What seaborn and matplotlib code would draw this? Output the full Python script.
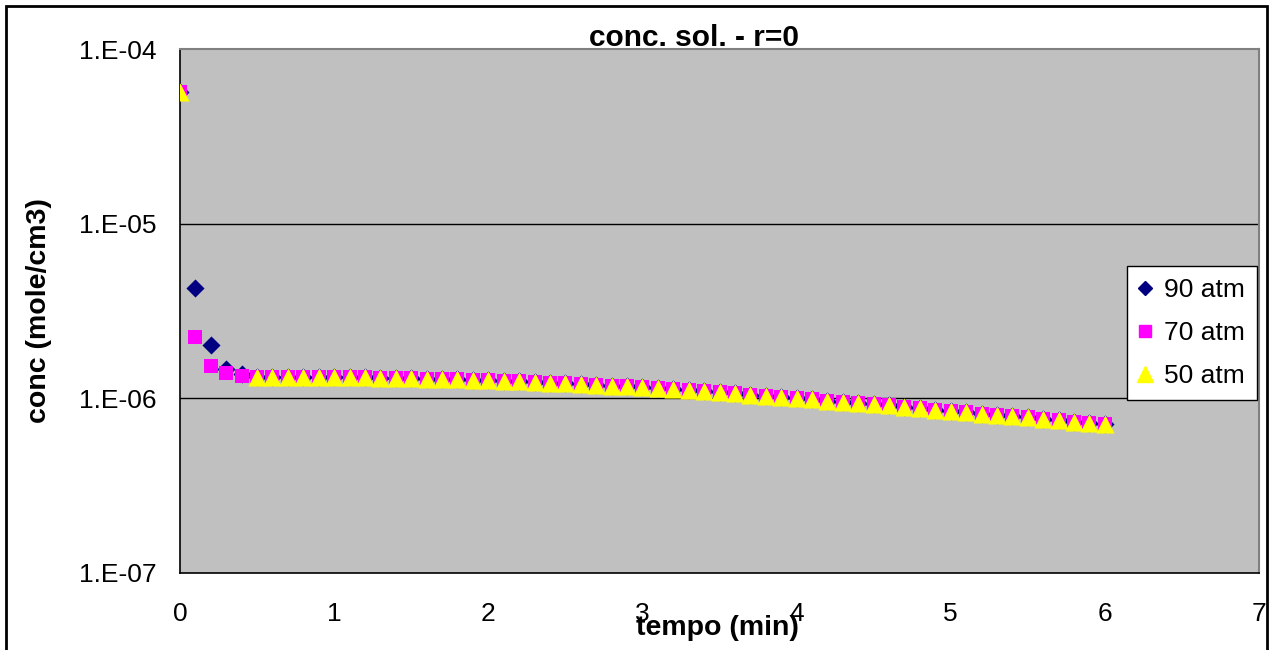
import numpy as np
import pandas as pd
import matplotlib
matplotlib.use("Agg")
import matplotlib.pyplot as plt
import seaborn as sns
from matplotlib.lines import Line2D
from matplotlib.patches import Rectangle
from matplotlib.ticker import FixedLocator, FuncFormatter, NullLocator

sns.set_style("white")
plt.rcParams['font.family'] = ['Liberation Sans', 'DejaVu Sans']
plt.rcParams['text.color'] = 'black'
plt.rcParams['axes.labelcolor'] = 'black'
plt.rcParams['xtick.color'] = 'black'
plt.rcParams['ytick.color'] = 'black'

# ---------------- data ----------------
tempo = [round(0.1 * i, 1) for i in range(61)]  # 0.0 .. 6.0 min

# common tail (t = 0.5 .. 6.0), values in 1e-6 mole/cm3
tail = [1.32, 1.32, 1.32, 1.32, 1.32, 1.32, 1.32, 1.32,
        1.30, 1.30, 1.30, 1.29, 1.29, 1.29, 1.27, 1.27,
        1.26, 1.25, 1.24, 1.23, 1.22, 1.21, 1.19, 1.18,
        1.17, 1.16, 1.14, 1.13, 1.12, 1.10, 1.08, 1.07,
        1.05, 1.03, 1.02, 1.00, 0.985, 0.97, 0.955, 0.94,
        0.925, 0.91, 0.89, 0.875, 0.86, 0.845, 0.83, 0.815,
        0.80, 0.79, 0.78, 0.765, 0.75, 0.735, 0.72, 0.71]

head_90 = [56.8, 4.31, 2.01, 1.48, 1.37]
head_70 = [56.8, 2.23, 1.54, 1.39, 1.34]
head_50 = [56.8, np.nan, np.nan, np.nan, np.nan]

conc_90 = [v * 1e-6 for v in head_90 + tail]
conc_70 = [v * 1e-6 for v in head_70 + tail]
conc_50 = [v * 1e-6 for v in head_50 + tail]

series_names = ["90 atm", "70 atm", "50 atm"]
series_colors = ["#000080", "#FF00FF", "#FFFF00"]
series_markers = ["D", "s", "^"]
series_sizes = [85, 110, 170]

title = "conc. sol. - r=0"
xlabel = "tempo (min)"
ylabel = "conc (mole/cm3)"
xticks = [0, 1, 2, 3, 4, 5, 6, 7]
yticks = [1e-7, 1e-6, 1e-5, 1e-4]

df = pd.DataFrame({"tempo": tempo, "90 atm": conc_90,
                   "70 atm": conc_70, "50 atm": conc_50})
long = df.melt(id_vars="tempo", var_name="serie", value_name="conc").dropna()

# ---------------- figure ----------------
fig = plt.figure(figsize=(12.7, 6.5), dpi=100)
ax = fig.add_axes([180 / 1270, 1 - 573 / 650, 1079 / 1270, 524 / 650])
ax.set_facecolor("#C0C0C0")

for name, col, mk, sz in zip(series_names, series_colors, series_markers, series_sizes):
    sub = long[long["serie"] == name]
    sns.scatterplot(data=sub, x="tempo", y="conc", marker=mk, color=col,
                    s=sz, linewidth=0, edgecolor=None, ax=ax, legend=False,
                    zorder=3)

ax.set_yscale("log")
ax.set_xlim(0, 7)
ax.set_ylim(1e-7, 1e-4)
ax.xaxis.set_major_locator(FixedLocator(xticks))
ax.yaxis.set_major_locator(FixedLocator(yticks))
ax.yaxis.set_minor_locator(NullLocator())
ax.yaxis.set_major_formatter(FuncFormatter(lambda v, p: "1.E-%02d" % round(-np.log10(v))))

ax.grid(False)
for yv in yticks[1:-1]:
    ax.axhline(yv, color="black", lw=1.0, zorder=1)

ax.tick_params(axis="both", which="major", direction="out", length=6,
               width=1, color="black", labelsize=19, labelcolor="black")
ax.tick_params(axis="y", pad=11)
ax.tick_params(axis="x", pad=15)

for s in ["left", "bottom"]:
    ax.spines[s].set_color("black")
    ax.spines[s].set_linewidth(1.2)
for s in ["top", "right"]:
    ax.spines[s].set_color("#808080")
    ax.spines[s].set_linewidth(1.5)

ax.set_xlabel(xlabel, fontsize=20.5, fontweight="bold")
ax.xaxis.set_label_coords(0.5 - 2 / 1079, (573 - 615) / 524)
ax.set_ylabel(ylabel, fontsize=20.5, fontweight="bold")
ax.yaxis.set_label_coords((52 - 180) / 1079, 0.5)

fig.text(694 / 1270, 1 - 38 / 650, title, ha="center", va="center",
         fontsize=21.5, fontweight="bold")

handles = [Line2D([], [], linestyle="none", marker=m, color=c, markersize=ms)
           for m, c, ms in zip(series_markers, series_colors, [7, 8, 11])]
leg = ax.legend(handles, series_names, loc="upper left",
                bbox_to_anchor=(1127 / 1270, 1 - 266 / 650),
                bbox_transform=fig.transFigure, fontsize=19, frameon=True,
                fancybox=False, shadow=False, borderpad=0.45, labelspacing=0.72,
                handlelength=0.5, handletextpad=0.45, borderaxespad=0)
leg.get_frame().set_edgecolor("black")
leg.get_frame().set_linewidth(1.0)
leg.get_frame().set_facecolor("white")
leg.get_frame().set_alpha(1)

# outer chart border
fig.patches.append(Rectangle((6 / 1270, -0.01), 1261 / 1270, 1 - 6 / 650 + 0.01,
                             transform=fig.transFigure, fill=False,
                             edgecolor="black", lw=2))

fig.savefig("out.png", dpi=100)
